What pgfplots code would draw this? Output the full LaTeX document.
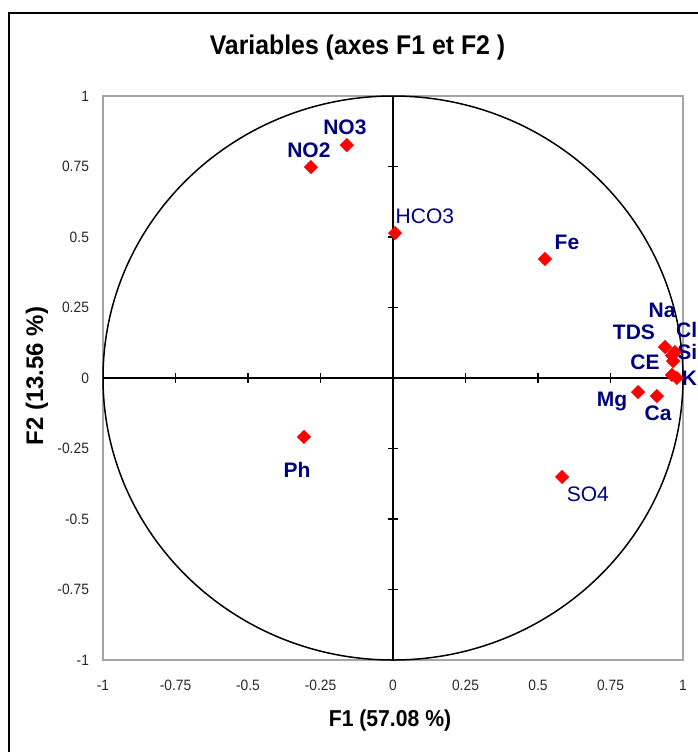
\documentclass[border=0pt]{standalone}
\usepackage{fontspec}
\setmainfont{Liberation Sans}
\newfontfamily\narrowsf[FakeStretch=0.92]{Liberation Sans}
\usepackage{pgfplots}
\usepackage{pgfplotstable}
\pgfplotsset{compat=1.18}

\definecolor{lblblue}{RGB}{0,0,128}
\definecolor{ptred}{RGB}{255,0,0}
\definecolor{boxgray}{RGB}{165,165,165}

% coordonnees des variables sur F1 et F2
\pgfplotstableread{
name  x       y
NO3   -0.159  0.826
NO2   -0.283  0.748
HCO3   0.007  0.514
Fe     0.524  0.422
TDS    0.938  0.110
Na     0.972  0.092
Cl     0.962  0.080
Si     0.966  0.060
CE     0.962  0.011
K      0.979  0.000
Mg     0.845 -0.050
Ca     0.910 -0.064
Ph    -0.307 -0.209
SO4    0.583 -0.351
}\vars

\newcommand\lbl{\bfseries\fontsize{10.5}{12}\selectfont}
\newcommand\lblr{\fontsize{10.5}{12}\selectfont}

\begin{document}
\begin{tikzpicture}
\useasboundingbox (0,0) rectangle (349pt,-376pt);
\clip (0,0) rectangle (349pt,-376pt);
\draw[line width=1pt] (4.5pt,-376pt) -- (4.5pt,-6.5pt) -- (349pt,-6.5pt);

\begin{axis}[
    at={(51.5pt,-330pt)}, anchor=south west,
    scale only axis, width=290pt, height=282pt,
    xmin=-1, xmax=1, ymin=-1, ymax=1,
    xtick={-1,-0.75,-0.5,-0.25,0,0.25,0.5,0.75,1},
    ytick={-1,-0.75,-0.5,-0.25,0,0.25,0.5,0.75,1},
    xticklabels={-1,-0.75,-0.5,-0.25,0,0.25,0.5,0.75,1},
    yticklabels={-1,-0.75,-0.5,-0.25,0,0.25,0.5,0.75,1},
    major tick length=0pt, tick style={draw=none},
    axis line style={draw=boxgray, line width=1pt},
    ticklabel style={font=\narrowsf\fontsize{7.5}{9}\selectfont, text=black!85},
    yticklabel style={xshift=-3.5pt},
    xticklabel style={yshift=-6.5pt},
    clip=false,
]
\draw[line width=0.75pt] (axis cs:0,0) ellipse [x radius=145pt, y radius=141pt];
\draw[line width=1pt] (axis cs:-1,0) -- (axis cs:1,0);
\draw[line width=1pt] (axis cs:0,-1) -- (axis cs:0,1);
\pgfplotsinvokeforeach{-0.75,-0.5,-0.25,0.25,0.5,0.75}{
  \draw[line width=0.9pt] ([yshift=-2.5pt]axis cs:#1,0) -- ([yshift=2.5pt]axis cs:#1,0);
  \draw[line width=0.9pt] ([xshift=-2.5pt]axis cs:0,#1) -- ([xshift=2.5pt]axis cs:0,#1);
}

\addplot[only marks, mark=square*, mark size=2.3pt, color=ptred,
  mark options={rotate=45}] table[x=x, y=y] {\vars};

\begin{scope}[every node/.style={text=lblblue, font=\lbl, inner sep=0pt}]
\node at (axis cs:-0.166,0.890) {NO3};
\node at (axis cs:-0.290,0.809) {NO2};
\node[font=\lblr] at (axis cs:0.110,0.574) {HCO3};
\node at (axis cs:0.600,0.482) {Fe};
\node at (axis cs:0.928,0.241) {Na};
\node at (axis cs:0.831,0.163) {TDS};
\node[anchor=east] at (axis cs:1.050,0.170) {Cl};
\node[anchor=east] at (axis cs:1.050,0.092) {Si};
\node at (axis cs:0.869,0.057) {CE};
\node[anchor=east] at (axis cs:1.050,0.000) {K};
\node at (axis cs:0.755,-0.085) {Mg};
\node at (axis cs:0.914,-0.124) {Ca};
\node at (axis cs:-0.331,-0.326) {Ph};
\node[font=\lblr] at (axis cs:0.672,-0.411) {SO4};
\end{scope}
\end{axis}

\node[font=\narrowsf\bfseries\fontsize{13.5}{16}\selectfont] at (178.75pt,-24pt) {Variables (axes F1 et F2 )};
\node[font=\narrowsf\bfseries\fontsize{11.5}{14}\selectfont] at (195pt,-360.5pt) {F1 (57.08 \%)};
\node[font=\bfseries\fontsize{12}{14}\selectfont, rotate=90] at (18.5pt,-188pt) {F2 (13.56 \%)};
\end{tikzpicture}
\end{document}
